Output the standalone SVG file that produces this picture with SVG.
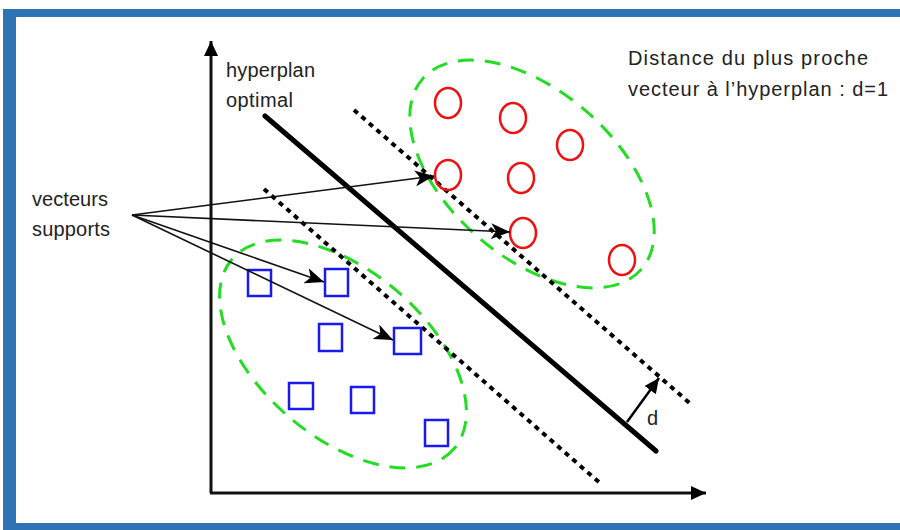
<svg xmlns="http://www.w3.org/2000/svg" width="900" height="530" viewBox="0 0 900 530">
<style>
.frame{fill:#2e74b5}
.txt{font-family:"Liberation Sans",Arial,Helvetica,sans-serif;font-size:20px;fill:#222}
.axis{stroke:#111;stroke-width:3;fill:none}
.hyp{stroke:#000;stroke-width:5;fill:none;stroke-linecap:round}
.marg{stroke:#000;stroke-width:4;fill:none;stroke-dasharray:5 5}
.clu{stroke:#22dd22;stroke-width:3;fill:none;stroke-dasharray:16 11}
.pos{stroke:#ee1111;stroke-width:2.5;fill:none}
.neg{stroke:#1a1aee;stroke-width:2.5;fill:none}
.sv{stroke:#111;stroke-width:1.6;fill:none}
</style>
<defs>
<marker id="ax" markerUnits="userSpaceOnUse" markerWidth="16" markerHeight="14" refX="15" refY="7" orient="auto">
<path d="M0,0 L15,7 L0,14 z" fill="#000"/>
</marker>
<marker id="ar" markerUnits="userSpaceOnUse" markerWidth="20" markerHeight="16" refX="19" refY="8" orient="auto">
<path d="M0,0 L19,8 L0,16 L5,8 z" fill="#000"/>
</marker>
</defs>
<rect width="900" height="530" fill="#fff"/>
<g id="frame">
<rect class="frame" x="3" y="9" width="897" height="8"/>
<rect class="frame" x="3" y="9" width="13" height="521"/>
<rect class="frame" x="3" y="523" width="897" height="7"/>
</g>
<g id="axes">
<line class="axis" x1="211" y1="493" x2="211" y2="41" marker-end="url(#ax)"/>
<line class="axis" x1="210" y1="493" x2="706" y2="493" marker-end="url(#ax)"/>
</g>
<g id="clusters">
<ellipse id="cluster-pos" class="clu" cx="532" cy="174" rx="145" ry="83" transform="rotate(41 532 174)"/>
<ellipse id="cluster-neg" class="clu" cx="343" cy="354" rx="146" ry="83" transform="rotate(40.5 343 354)"/>
</g>
<g id="hyperplane">
<line class="hyp" x1="265" y1="116" x2="656" y2="451"/>
<line class="marg" x1="354" y1="110" x2="693" y2="406"/>
<line class="marg" x1="264" y1="189" x2="601" y2="484"/>
</g>
<g id="positives">
<ellipse class="pos" cx="448" cy="103" rx="13" ry="15"/>
<ellipse class="pos" cx="513" cy="118" rx="13" ry="15"/>
<ellipse class="pos" cx="570" cy="145" rx="13" ry="15"/>
<ellipse class="pos" cx="448" cy="175" rx="13" ry="15"/>
<ellipse class="pos" cx="521" cy="178" rx="13" ry="15"/>
<ellipse class="pos" cx="523" cy="233" rx="13" ry="15"/>
<ellipse class="pos" cx="622" cy="260" rx="13" ry="15"/>
</g>
<g id="negatives">
<rect class="neg" x="248" y="270" width="23" height="26"/>
<rect class="neg" x="325" y="269" width="23" height="27"/>
<rect class="neg" x="319" y="324" width="23" height="27"/>
<rect class="neg" x="394" y="328" width="27" height="26"/>
<rect class="neg" x="289" y="383" width="24" height="26"/>
<rect class="neg" x="351" y="387" width="23" height="26"/>
<rect class="neg" x="425" y="420" width="23" height="26"/>
</g>
<g id="connectors">
<line class="sv" x1="132" y1="215" x2="434" y2="176" marker-end="url(#ar)"/>
<line class="sv" x1="132" y1="215" x2="510" y2="232" marker-end="url(#ar)"/>
<line class="sv" x1="132" y1="215" x2="324" y2="282" marker-end="url(#ar)"/>
<line class="sv" x1="132" y1="215" x2="393" y2="340" marker-end="url(#ar)"/>
<line stroke="#000" stroke-width="2.5" x1="627" y1="422" x2="659" y2="378" marker-end="url(#ax)"/>
</g>
<g id="labels">
<text class="txt" x="226" y="77" textLength="89">hyperplan</text>
<text class="txt" x="226" y="107" textLength="67">optimal</text>
<text class="txt" x="32" y="206" textLength="76">vecteurs</text>
<text class="txt" x="32" y="236" textLength="78">supports</text>
<text class="txt" x="628" y="65" textLength="240">Distance du plus proche</text>
<text class="txt" x="628" y="96" textLength="260">vecteur à l’hyperplan : d=1</text>
<text class="txt" x="647" y="425">d</text>
</g>
</svg>
